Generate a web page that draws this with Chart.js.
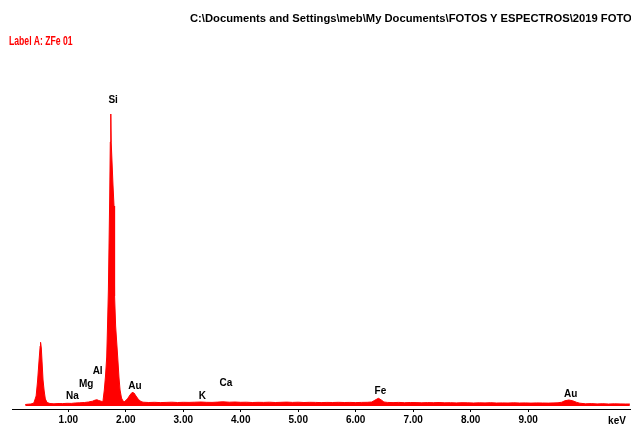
<!DOCTYPE html>
<html lang="es">
<head>
<meta charset="UTF-8">
<title>Espectro EDS ZFe 01</title>
<script src="https://cdn.jsdelivr.net/npm/chart.js"></script>
<style>
    body { margin: 0; background: #fff; font-family: "Liberation Sans", Arial, sans-serif; }
    .wrap { position: relative; width: 631px; height: 425px; overflow: hidden; }
    .path { position: absolute; left: 190px; top: 12px; font-size: 11px; font-weight: bold; color: #000; white-space: nowrap; transform: scaleX(1.02); transform-origin: left top; }
    .label { position: absolute; left: 9px; top: 34px; font-size: 12px; font-weight: bold; color: #ff0000; white-space: nowrap; transform: scaleX(0.72); transform-origin: left top; }
    canvas { position: absolute; left: 0; top: 0; }
</style>
</head>
<body>
<div class="wrap">
    <canvas id="spectrum" width="631" height="425"></canvas>
    <div class="path">C:\Documents and Settings\meb\My Documents\FOTOS Y ESPECTROS\2019 FOTOS\ZFe 01</div>
    <div class="label">Label A: ZFe 01</div>
</div>
<script>
const energy = [
    0.25, 0.30, 0.35, 0.40, 0.44, 0.465, 0.49, 0.51, 0.517, 0.53, 0.545, 0.56, 0.58, 0.60, 0.63, 0.68,
    0.75, 0.82, 0.90, 0.98, 1.05, 1.12, 1.20, 1.28, 1.35, 1.42, 1.47, 1.50, 1.53, 1.57, 1.59,
    1.603, 1.626, 1.647, 1.668, 1.682, 1.697, 1.72, 1.73, 1.739, 1.746, 1.778, 1.795, 1.805, 1.823, 1.859, 1.882, 1.90, 1.925, 1.951, 1.97,
    1.986, 2.03, 2.073, 2.108, 2.143, 2.177, 2.221, 2.264, 2.30,
    2.4, 2.5, 2.6, 2.7, 2.8, 2.9, 3.0, 3.1, 3.2, 3.31, 3.4, 3.5, 3.6, 3.69, 3.8, 3.9,
    4.0, 4.1, 4.2, 4.3, 4.4, 4.5, 4.6, 4.7, 4.8, 4.9, 5.0, 5.1, 5.2, 5.3, 5.4, 5.5, 5.6, 5.7, 5.8, 5.9,
    6.0, 6.1, 6.2, 6.28, 6.334, 6.395, 6.447, 6.491, 6.55, 6.65, 6.75, 6.85, 6.95,
    7.05, 7.15, 7.25, 7.35, 7.45, 7.55, 7.65, 7.75, 7.85, 7.95, 8.05, 8.15, 8.25, 8.35, 8.45, 8.55, 8.65, 8.75, 8.85, 8.95,
    9.05, 9.15, 9.25, 9.35, 9.45, 9.52, 9.586, 9.638, 9.708, 9.777, 9.847, 9.9,
    10.0, 10.1, 10.2, 10.3, 10.4, 10.5, 10.6, 10.7, 10.77
];
const counts = [
    15, 18, 20, 30, 100, 250, 450, 600, 637, 580, 420, 260, 150, 70, 35, 25,
    22, 25, 24, 27, 26, 30, 32, 35, 40, 48, 60, 62, 55, 48, 45,
    50, 160, 300, 490, 800, 1160, 2090, 2640, 2920, 2640, 2200, 2000, 1100, 800, 490, 280, 160, 80, 50, 44,
    48, 72, 110, 135, 130, 100, 65, 45, 38,
    35, 37, 34, 36, 38, 35, 37, 36, 38, 40, 37, 36, 39, 42, 38, 40,
    37, 38, 35, 37, 36, 38, 35, 37, 39, 36, 38, 35, 37, 36, 34, 36, 35, 37, 35, 36,
    34, 36, 37, 40, 58, 77, 60, 40, 36, 34, 36, 33, 35,
    34, 32, 34, 33, 35, 32, 33, 31, 33, 32, 30, 32, 31, 33, 30, 31, 30, 32, 30, 31,
    29, 31, 30, 29, 31, 32, 38, 52, 60, 52, 36, 28,
    22, 24, 21, 23, 20, 22, 21, 20, 20
];

// etiquetas de elementos (posicion en keV / cuentas)
const peakNames  = ['Na', 'Mg', 'Al', 'Si', 'Au', 'K', 'Ca', 'Fe', 'Au'];
const peakEnergy = [1.07, 1.31, 1.51, 1.78, 2.16, 3.33, 3.74, 6.43, 9.74];
const peakLabelY = [95, 220, 345, 3060, 195, 100, 230, 145, 115];

const tickValues = [1, 2, 3, 4, 5, 6, 7, 8, 9];

const points = energy.map((e, i) => ({ x: e, y: counts[i] }));

const peakLabels = {
    id: 'peakLabels',
    afterDatasetsDraw(chart) {
        const ctx = chart.ctx;
        const xs = chart.scales.x, ys = chart.scales.y;
        ctx.save();
        ctx.fillStyle = '#000';
        ctx.font = 'bold 10px "Liberation Sans", Arial, sans-serif';
        ctx.textAlign = 'center';
        ctx.textBaseline = 'middle';
        peakNames.forEach((n, i) => {
            ctx.fillText(n, xs.getPixelForValue(peakEnergy[i]), ys.getPixelForValue(peakLabelY[i]));
        });
        ctx.fillText('keV', chart.chartArea.right - 14, 421);
        ctx.restore();
    }
};

new Chart(document.getElementById('spectrum'), {
    type: 'line',
    data: {
        datasets: [{
            data: points,
            borderColor: '#ff0000',
            backgroundColor: '#ff0000',
            borderWidth: 1,
            pointRadius: 0,
            tension: 0,
            fill: 'origin'
        }]
    },
    options: {
        responsive: false,
        animation: false,
        layout: { padding: { left: 12, right: 0, top: 59, bottom: 0 } },
        plugins: { legend: { display: false }, tooltip: { enabled: false } },
        scales: {
            x: {
                type: 'linear',
                min: 0.02,
                max: 10.79,
                afterBuildTicks: s => { s.ticks = tickValues.map(v => ({ value: v })); },
                afterFit: s => { s.height = 16; },
                border: { color: '#000', width: 1 },
                grid: { drawOnChartArea: false, color: '#000', tickLength: 3 },
                ticks: {
                    color: '#000',
                    padding: 2,
                    maxRotation: 0,
                    font: { family: '"Liberation Sans", Arial, sans-serif', size: 10, weight: 'bold' },
                    callback: v => v.toFixed(2)
                }
            },
            y: {
                display: false,
                min: -30,
                max: 3470
            }
        }
    },
    plugins: [peakLabels]
});
</script>
</body>
</html>
